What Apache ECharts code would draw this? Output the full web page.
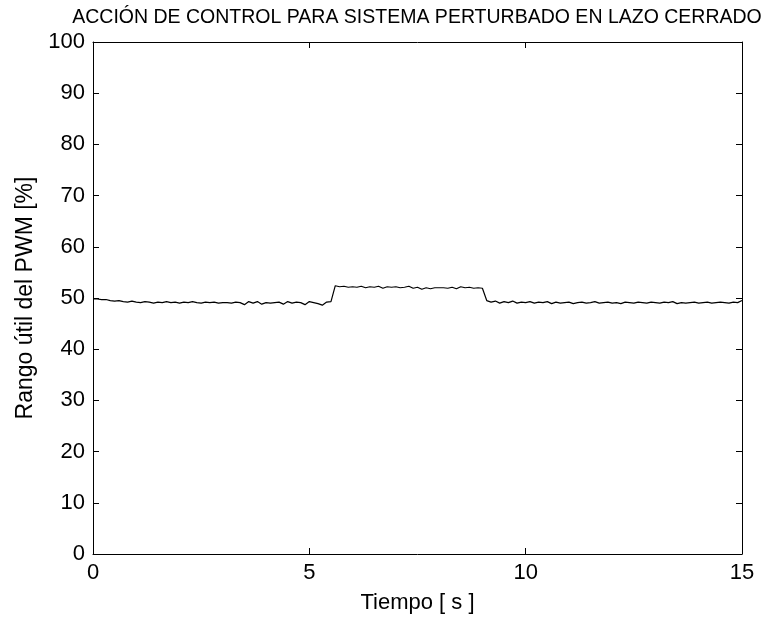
<!DOCTYPE html>
<html>
<head>
<meta charset="utf-8">
<script src="https://cdn.jsdelivr.net/npm/echarts@6/dist/echarts.min.js"></script>
<style>
  html, body { margin: 0; padding: 0; background: #fff; }
  #chart { width: 763px; height: 621px; }
</style>
</head>
<body>
<div id="chart"></div>
<script>
// Duty cycle of the PWM control signal, sampled every 0.1 s
const sampleStep = 0.1;
const dutyCycle = [
  49.8, 49.8, 49.7, 49.7, 49.5, 49.4, 49.5, 49.3, 49.2, 49.4,
  49.2, 49.1, 49.3, 49.2, 49.0, 49.2, 49.1, 49.3, 49.1, 49.2,
  49.0, 49.2, 49.1, 49.3, 49.1, 49.0, 49.2, 49.1, 49.2, 49.0,
  49.1, 49.1, 49.0, 49.2, 49.1, 48.7, 49.3, 49.0, 49.3, 48.8,
  49.1, 49.0, 49.1, 49.2, 48.8, 49.3, 49.0, 49.2, 49.1, 48.7,
  49.3, 49.1, 48.9, 48.6, 49.2, 49.3, 52.4, 52.2, 52.3, 52.1,
  52.2, 52.1, 52.3, 52.0, 52.2, 52.1, 52.3, 51.9, 52.2, 52.1,
  52.2, 52.0, 52.1, 52.3, 51.9, 52.1, 51.7, 52.0, 51.8, 52.0,
  52.0, 52.0, 51.9, 52.1, 51.8, 52.2, 52.0, 52.1, 51.9, 52.0,
  51.9, 49.5, 49.2, 49.4, 49.0, 49.3, 49.1, 49.4, 49.0, 49.2,
  49.1, 49.3, 49.0, 49.2, 49.1, 49.3, 48.9, 49.2, 49.0, 49.1,
  49.2, 48.9, 49.1, 49.2, 49.0, 49.1, 49.3, 49.0, 49.1, 49.2,
  49.0, 49.1, 48.9, 49.2, 49.1, 49.0, 49.2, 49.1, 49.0, 49.2,
  49.1, 49.0, 49.2, 49.1, 49.3, 48.9, 49.1, 49.0, 49.1, 49.2,
  49.0, 49.1, 49.2, 49.0, 49.1, 49.2, 49.1, 49.0, 49.2, 49.1,
  49.5
];
const xTicks = [0, 5, 10, 15];
const yTicks = [0, 10, 20, 30, 40, 50, 60, 70, 80, 90, 100];

const titleText = 'ACCIÓN DE CONTROL PARA SISTEMA PERTURBADO EN LAZO CERRADO';
const xName = 'Tiempo [ s ]';
const yName = 'Rango útil del PWM [%]';

const font = "'Liberation Sans', Arial, Helvetica, sans-serif";
const points = dutyCycle.map((v, i) => [+(i * sampleStep).toFixed(2), v]);

// Black box around the plot with inward ticks on all four sides
const boxAxis = {
  axisLine: { show: true, onZero: false, lineStyle: { color: '#000', width: 1 } },
  axisTick: { show: true, inside: true, length: 6, lineStyle: { color: '#000' } },
  splitLine: { show: false }
};

const chart = echarts.init(document.getElementById('chart'), null, { renderer: 'canvas' });
chart.setOption({
  animation: false,
  backgroundColor: '#fff',
  title: {
    text: titleText,
    left: 412, top: 3, textAlign: 'center',
    textStyle: { fontFamily: font, fontSize: 19.5, fontWeight: 'normal', color: '#000' }
  },
  grid: { left: 93, right: 21, top: 42, bottom: 67 },
  xAxis: [
    Object.assign({
      type: 'value', min: xTicks[0], max: xTicks[xTicks.length - 1], interval: 5,
      name: xName, nameLocation: 'middle', nameGap: 38,
      nameTextStyle: { fontFamily: font, fontSize: 22, color: '#000' },
      axisLabel: { fontFamily: font, fontSize: 22, color: '#000', margin: 8 }
    }, boxAxis),
    Object.assign({
      type: 'value', position: 'top', min: xTicks[0], max: xTicks[xTicks.length - 1], interval: 5,
      axisLabel: { show: false }
    }, boxAxis)
  ],
  yAxis: [
    Object.assign({
      type: 'value', min: yTicks[0], max: yTicks[yTicks.length - 1], interval: 10,
      name: yName, nameLocation: 'middle', nameGap: 55,
      nameTextStyle: { fontFamily: font, fontSize: 23, color: '#000' },
      axisLabel: { fontFamily: font, fontSize: 22, color: '#000', margin: 8 }
    }, boxAxis),
    Object.assign({
      type: 'value', position: 'right', min: yTicks[0], max: yTicks[yTicks.length - 1], interval: 10,
      axisLabel: { show: false }
    }, boxAxis)
  ],
  series: [{
    type: 'line',
    data: points,
    showSymbol: false,
    lineStyle: { color: '#000', width: 1.2 },
    xAxisIndex: 0, yAxisIndex: 0
  }]
});
</script>
</body>
</html>
